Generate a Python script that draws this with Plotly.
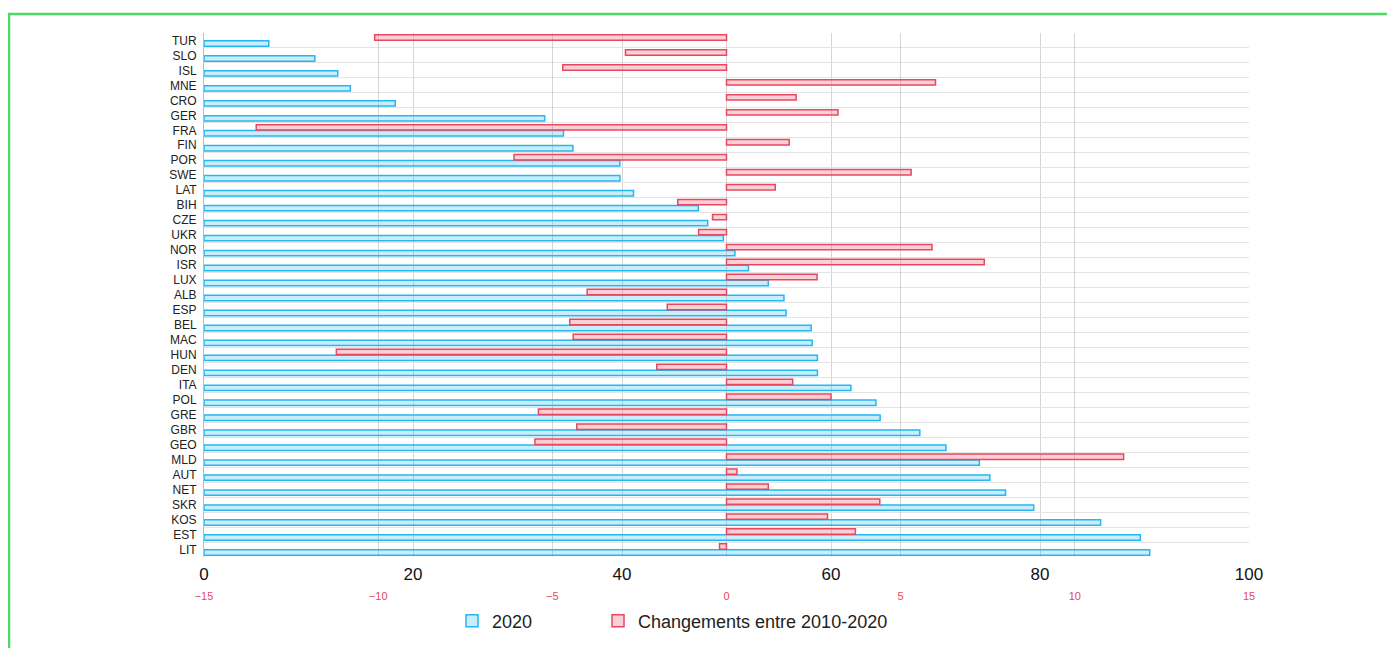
import plotly.graph_objects as go

countries = ["TUR", "SLO", "ISL", "MNE", "CRO", "GER", "FRA", "FIN", "POR", "SWE",
             "LAT", "BIH", "CZE", "UKR", "NOR", "ISR", "LUX", "ALB", "ESP", "BEL",
             "MAC", "HUN", "DEN", "ITA", "POL", "GRE", "GBR", "GEO", "MLD", "AUT",
             "NET", "SKR", "KOS", "EST", "LIT"]

values_2020 = [6.2, 10.6, 12.8, 14.0, 18.3, 32.6, 34.4, 35.3, 39.8, 39.8,
               41.1, 47.3, 48.2, 49.7, 50.8, 52.1, 54.0, 55.5, 55.7, 58.1,
               58.2, 58.7, 58.7, 61.9, 64.3, 64.7, 68.5, 71.0, 74.2, 75.2,
               76.7, 79.4, 85.8, 89.6, 90.5]

changes_2010_2020 = [-10.1, -2.9, -4.7, 6.0, 2.0, 3.2, -13.5, 1.8, -6.1, 5.3,
                     1.4, -1.4, -0.4, -0.8, 5.9, 7.4, 2.6, -4.0, -1.7, -4.5,
                     -4.4, -11.2, -2.0, 1.9, 3.0, -5.4, -4.3, -5.5, 11.4, 0.3,
                     1.2, 4.4, 2.9, 3.7, -0.2]

main_ticks = [0, 20, 40, 60, 80, 100]
change_ticks = [-15, -10, -5, 0, 5, 10, 15]

BLUE = "rgb(38,182,240)"
BLUE_FILL = "rgba(38,182,240,0.25)"
RED = "rgb(232,72,95)"
RED_FILL = "rgba(240,100,120,0.30)"
FONT = "Liberation Sans, Arial, sans-serif"

fig = go.Figure()
fig.add_trace(go.Bar(
    y=countries, x=values_2020, orientation="h", name="2020",
    xaxis="x", yaxis="y", width=0.36, offset=0.02, legend="legend",
    marker=dict(color=BLUE_FILL, line=dict(color=BLUE, width=1.5)),
))
fig.add_trace(go.Bar(
    y=countries, x=changes_2010_2020, orientation="h",
    name="Changements entre 2010-2020", legend="legend2",
    xaxis="x2", yaxis="y", width=0.36, offset=-0.38,
    marker=dict(color=RED_FILL, line=dict(color=RED, width=1.5)),
))

legend_common = dict(orientation="h", xanchor="left", y=-0.122, yanchor="middle",
                     font=dict(size=18, color="#222"), itemwidth=30,
                     bgcolor="rgba(0,0,0,0)")

fig.update_layout(
    width=1387, height=640,
    margin=dict(l=196, r=146, t=25, b=91, autoexpand=False),
    paper_bgcolor="white", plot_bgcolor="white",
    barmode="overlay",
    font=dict(family=FONT, color="#222"),
    showlegend=True,
    legend=dict(x=(452 - 204) / 1045, **legend_common),
    legend2=dict(x=(598 - 204) / 1045, **legend_common),
    xaxis=dict(range=[0, 100], tickvals=main_ticks, showgrid=True,
               gridcolor="rgba(0,0,0,0.16)", zeroline=False, showline=False,
               ticks="", tickfont=dict(size=17, color="#111"), ticklabelstandoff=5,
               fixedrange=True),
    xaxis2=dict(range=[-15, 15], tickvals=change_ticks, overlaying="x", side="bottom",
                anchor="y", showgrid=True, gridcolor="rgba(0,0,0,0.16)",
                zeroline=False, showline=False, ticks="",
                tickfont=dict(size=11, color=RED), ticklabelstandoff=31),
    yaxis=dict(type="category", autorange="reversed", tickson="boundaries",
               showgrid=True, gridcolor="#e4e4e4", showline=True, linecolor="#bbbbbb",
               ticks="", tickfont=dict(size=12, color="#222"), ticklabelstandoff=4),
    shapes=[dict(type="rect", xref="paper", yref="paper",
                 x0=(9 - 204) / 1045, x1=(1394 - 204) / 1045,
                 y0=(557 - 700) / 524, y1=(557 - 14) / 524,
                 line=dict(color="rgb(76,217,100)", width=2.5), fillcolor="rgba(0,0,0,0)",
                 layer="below")],
)

fig.write_html("out.html")
